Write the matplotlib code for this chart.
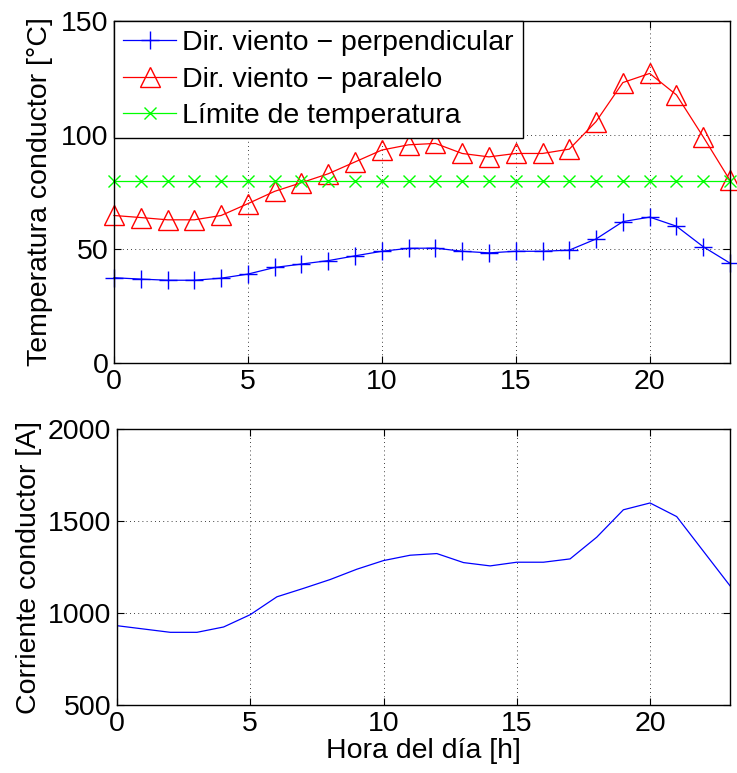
import matplotlib
matplotlib.use("Agg")
import matplotlib.pyplot as plt

hours = list(range(24))
temp_perp = [37.4, 36.8, 36.3, 36.3, 37.2, 39.0, 41.9, 43.4, 44.9, 47.0, 49.0, 50.3,
             50.4, 49.0, 48.3, 49.0, 49.0, 49.5, 54.4, 62.0, 64.0, 60.0, 51.0, 43.8]
temp_par = [64.7, 63.8, 62.8, 62.8, 64.7, 69.9, 75.3, 79.1, 83.0, 88.2, 93.4, 95.7,
            96.3, 91.9, 90.4, 91.9, 91.9, 93.8, 105.9, 123.0, 127.0, 117.6, 99.2, 80.1]
temp_limit = [80] * 24
current = [931, 913, 895, 895, 924, 991, 1088, 1134, 1182, 1238, 1285, 1314,
           1323, 1274, 1256, 1276, 1276, 1294, 1412, 1561, 1598, 1524, 1336, 1148]

labels = ["Dir. viento \u2212 perpendicular", "Dir. viento \u2212 paralelo", "L\u00edmite de temperatura"]
xticks = [0, 5, 10, 15, 20]

plt.rcParams['font.family'] = ['Liberation Sans', 'DejaVu Sans']
plt.rcParams['font.size'] = 20.5

fig = plt.figure(figsize=(7.37, 7.73), dpi=100)
W, H = 737, 773
ax1 = fig.add_axes([114 / W, 1 - 363 / H, (730 - 114) / W, (363 - 21) / H])
ax2 = fig.add_axes([117 / W, 1 - 705 / H, (730 - 117) / W, (705 - 429) / H])

lw = 0.9
ax1.plot(hours, temp_perp, color=(0, 0, 1), marker='+', ms=13, mew=1.0, lw=lw, clip_on=False, label=labels[0])
ax1.plot(hours, temp_par, color=(1, 0, 0), marker='^', ms=14, mfc='none', mew=1.0, lw=lw, clip_on=False, label=labels[1])
ax1.plot(hours, temp_limit, color=(0, 1, 0), marker='x', ms=9, mew=1.0, lw=lw, clip_on=False, label=labels[2])
ax1.set_xlim(0, 23)
ax1.set_ylim(0, 150)
ax1.set_yticks([0, 50, 100, 150])
ax1.set_ylabel("Temperatura conductor [\u00b0C]")
ax1.yaxis.set_label_coords(-0.099, 0.5)

ax2.plot(hours, current, color=(0, 0, 1), lw=lw)
ax2.set_xlim(0, 23)
ax2.set_ylim(500, 2000)
ax2.set_yticks([500, 1000, 1500, 2000])
ax2.set_ylabel("Corriente conductor [A]")
ax2.yaxis.set_label_coords(-0.122, 0.5)
ax2.set_xlabel("Hora del d\u00eda [h]", labelpad=1)

for ax in (ax1, ax2):
    ax.set_xticks(xticks)
    ax.grid(True, color='black', linestyle=(0, (1, 4)), linewidth=0.6)
    ax.tick_params(direction='in', top=True, right=True, length=5, width=0.8, pad=4)
    for s in ax.spines.values():
        s.set_linewidth(1.0)

leg = ax1.legend(loc='upper left', bbox_to_anchor=(0, 1.0), borderaxespad=0, fancybox=False,
                 edgecolor='black', framealpha=1, handlelength=1.85, handletextpad=0.2,
                 labelspacing=0.36, borderpad=0.33)
leg.get_frame().set_linewidth(1.0)

fig.savefig("out.png", dpi=100)
